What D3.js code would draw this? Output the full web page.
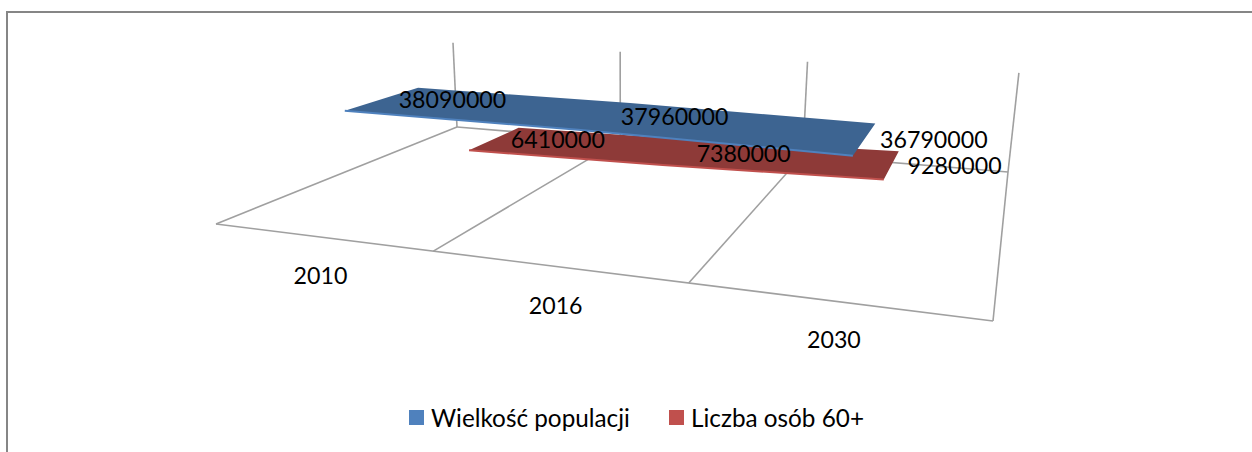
<!DOCTYPE html>
<html>
<head>
<meta charset="utf-8">
<script src="https://cdn.jsdelivr.net/npm/d3@7"></script>
<style>
  html, body { margin: 0; padding: 0; background: #fff; }
  svg { display: block; }
  text { font-family: Lato, "Noto Sans", sans-serif; fill: #000; }
</style>
</head>
<body>
<div id="chart"></div>
<script>
const categories = ['2010', '2016', '2030'];
const seriesNames = ['Wielkość populacji', 'Liczba osób 60+'];
const populacja = [38090000, 37960000, 36790000];
const osoby60 = [6410000, 7380000, 9280000];
const seriesValues = [populacja, osoby60];
const topColors = ['#3d6491', '#8e3a38'];
const edgeColors = ['#4f81bd', '#c0504d'];

const width = 1252, height = 452;
const svg = d3.select('#chart').append('svg').attr('width', width).attr('height', height);

// scales work in floor units 0..1, project() turns them into pixels
const x = d3.scalePoint().domain(categories).range([0, 1]).padding(0.5);
const depth = d3.scaleBand().domain(seriesNames).range([0, 1]).paddingInner(0.44).paddingOuter(0.225);
const y = d3.scaleLinear().domain([0, 40000000]).range([0, 1]);

// floor corners on screen: front left, front right, back right, back left
const [p00, p10, p11, p01] = [[216, 224], [993, 321], [1008, 172], [457, 127]];
const vanish = [625, 3655], lift = -0.033;

const dx1 = p10[0] - p11[0], dx2 = p01[0] - p11[0], sx = p00[0] - p10[0] + p11[0] - p01[0];
const dy1 = p10[1] - p11[1], dy2 = p01[1] - p11[1], sy = p00[1] - p10[1] + p11[1] - p01[1];
const den = dx1 * dy2 - dx2 * dy1;
const g = (sx * dy2 - dx2 * sy) / den, h = (dx1 * sy - sx * dy1) / den;

function project(u, d, v) {
  const k = v * lift;
  const X = (p10[0] - p00[0] + g * p10[0]) * u + (p01[0] - p00[0] + h * p01[0]) * d + p00[0] + k * vanish[0];
  const Y = (p10[1] - p00[1] + g * p10[1]) * u + (p01[1] - p00[1] + h * p01[1]) * d + p00[1] + k * vanish[1];
  const W = g * u + h * d + 1 + k;
  return [X / W, Y / W];
}

const line = d3.line();

// outer frame of the chart
svg.append('path')
  .attr('d', line([[7, height], [7, 12], [width, 12]]))
  .attr('fill', 'none').attr('stroke', '#868686').attr('stroke-width', 2);

// floor and back wall
const grid = svg.append('g').attr('fill', 'none').attr('stroke', '#a0a0a0').attr('stroke-width', 1.6);
const ticks = [0, 1 / 3, 2 / 3, 1];
ticks.forEach(u => {
  grid.append('path').attr('d', line([project(u, 0, 0), project(u, 1, 0)]));
  grid.append('path').attr('d', line([project(u, 1, 0), project(u, 1, 1)]));
});
grid.append('path').attr('d', line([project(0, 0, 0), project(1, 0, 0)]));
grid.append('path').attr('d', line([project(0, 1, 0), project(1, 1, 0)]));

// series sheets, back one first
d3.range(seriesNames.length).reverse().forEach(i => {
  const d0 = depth(seriesNames[i]), d1 = d0 + depth.bandwidth();
  const vals = seriesValues[i];
  const front = categories.map((c, j) => project(x(c), d0, y(vals[j])));
  const back = categories.map((c, j) => project(x(c), d1, y(vals[j])));
  svg.append('path')
    .attr('d', line(front.concat(back.reverse())) + 'Z')
    .attr('fill', topColors[i]);
  svg.append('path')
    .attr('d', line(front))
    .attr('fill', 'none').attr('stroke', edgeColors[i]).attr('stroke-width', 2);
});

// data labels
seriesNames.forEach((name, i) => {
  const mid = depth(name) + depth.bandwidth() / 2;
  categories.forEach((c, j) => {
    const [px, py] = project(x(c), mid, y(seriesValues[i][j]));
    svg.append('text')
      .attr('x', px + (i ? 63 : 69)).attr('y', py + 1.5)
      .attr('dy', '0.35em')
      .attr('text-anchor', 'middle')
      .attr('font-size', 23.2)
      .text(d3.format('d')(seriesValues[i][j]));
  });
});

// category labels
categories.forEach(c => {
  const [px, py] = project(x(c), 0, 0);
  svg.append('text')
    .attr('x', px).attr('y', py + 39)
    .attr('dy', '0.35em')
    .attr('text-anchor', 'middle')
    .attr('font-size', 23.2)
    .text(c);
});

// legend
const legendX = [409, 669];
seriesNames.forEach((name, i) => {
  svg.append('rect')
    .attr('x', legendX[i]).attr('y', 410)
    .attr('width', 15).attr('height', 15)
    .attr('fill', edgeColors[i]);
  svg.append('text')
    .attr('x', legendX[i] + 22).attr('y', 418)
    .attr('dy', '0.35em')
    .attr('font-size', 24.3)
    .text(name);
});
</script>
</body>
</html>
